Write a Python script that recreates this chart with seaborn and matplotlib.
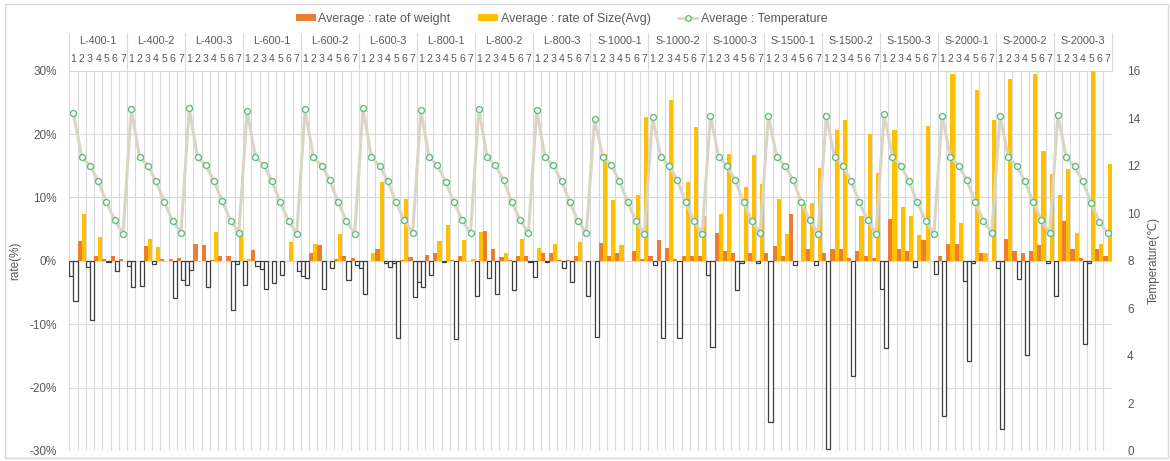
import numpy as np
import pandas as pd
import matplotlib.pyplot as plt
import matplotlib.transforms as mtransforms
from matplotlib.patches import Patch, Rectangle
from matplotlib.lines import Line2D
import seaborn as sns

groups = ['L-400-1', 'L-400-2', 'L-400-3', 'L-600-1', 'L-600-2', 'L-600-3',
          'L-800-1', 'L-800-2', 'L-800-3', 'S-1000-1', 'S-1000-2', 'S-1000-3',
          'S-1500-1', 'S-1500-2', 'S-1500-3', 'S-2000-1', 'S-2000-2', 'S-2000-3']
steps = ['1', '2', '3', '4', '5', '6', '7']

# rate of weight (%), 7 values per group
weight = [-2.4, 3.2, -1.0, 0.8, 0.3, 0.8, 0.3,
          -0.8, 0.0, 2.4, -0.5, 0.3, 0.3, 0.5,
          -3.8, 2.7, 2.5, 0.2, 0.8, 0.8, -0.5,
          -3.8, 1.7, -1.3, 0.0, 0.0, 0.0, 0.0,
          -2.4, 1.2, 2.5, 0.0, 0.3, 0.7, 0.4,
          -1.2, 0.0, 1.8, -0.3, -0.4, 0.2, 0.6,
          -3.4, 0.9, 1.2, -0.2, 0.2, 0.8, 0.0,
          -5.5, 4.7, 1.8, 0.6, 0.2, 0.8, 0.8,
          -2.5, 1.2, 1.2, 0.2, 0.2, 0.7, 0.0,
          0.0, 2.8, 0.8, 1.2, 0.0, 1.6, 0.3,
          0.8, 3.3, 2.0, 0.3, 0.8, 0.8, 0.8,
          -2.3, 4.4, 1.6, 1.2, -0.3, 1.2, -0.3,
          1.3, 2.4, 0.8, 7.4, 0.0, 1.8, -0.7,
          1.2, 1.9, 1.9, 0.4, 1.5, 0.7, 0.4,
          -4.5, 6.6, 1.9, 1.5, -1.0, 3.3, 0.0,
          0.8, 2.7, 2.6, -3.2, -0.3, 1.2, 0.0,
          -1.1, 3.5, 1.5, 1.2, 1.5, 2.5, -0.3,
          -5.6, 6.3, 1.9, 0.4, -0.3, 1.9, 0.7]

# rate of size (%), 7 values per group
size = [-6.3, 7.4, -9.3, 3.8, -0.2, -1.6, 0.0,
        -4.2, -4.0, 3.5, 2.2, 0.0, -5.9, -3.0,
        -1.5, 0.0, -4.1, 4.6, 0.0, -7.7, 4.7,
        0.3, -0.8, -4.5, -3.5, -2.3, 2.9, -1.6,
        -2.7, 2.7, -4.4, -1.2, 4.3, -3.0, -0.6,
        -5.2, 1.2, 12.4, -1.0, -12.1, 9.8, -5.7,
        -4.1, -2.3, 3.1, 5.6, -12.4, 3.3, 0.3,
        4.6, -2.7, -5.3, 1.3, -4.6, 3.4, -0.2,
        2.0, -0.2, 2.7, -1.2, -3.3, 3.0, -5.5,
        -12.0, 16.8, 9.6, 2.5, 0.0, 10.4, 22.7,
        -0.7, -12.1, 25.4, -12.2, 12.5, 21.1, 7.0,
        -13.6, 7.4, 16.9, -4.6, 11.6, 16.7, 12.1,
        -25.5, 9.8, 4.3, -0.7, 9.1, 9.1, 14.6,
        -29.7, 20.6, 22.2, -18.2, 7.1, 20.0, 13.8,
        -13.7, 20.7, 8.5, 7.1, 4.1, 21.3, -2.1,
        -24.4, 29.5, 5.9, -15.8, 27.0, 1.3, 22.2,
        -26.6, 28.7, -2.9, -14.9, 29.5, 17.4, 13.7,
        10.4, 14.5, 4.4, -13.1, 30.0, 2.6, 15.3]

# temperature (deg C), 7 values per group
temp = [14.23, 12.38, 12.00, 11.35, 10.46, 9.71, 9.14,
        14.38, 12.36, 11.99, 11.35, 10.46, 9.68, 9.19,
        14.42, 12.36, 12.02, 11.35, 10.50, 9.68, 9.19,
        14.31, 12.36, 12.03, 11.36, 10.46, 9.68, 9.14,
        14.38, 12.36, 12.00, 11.39, 10.46, 9.68, 9.14,
        14.42, 12.38, 12.00, 11.36, 10.46, 9.71, 9.17,
        14.33, 12.36, 12.02, 11.32, 10.46, 9.71, 9.17,
        14.38, 12.36, 12.02, 11.39, 10.46, 9.71, 9.17,
        14.35, 12.36, 12.02, 11.35, 10.46, 9.68, 9.17,
        13.98, 12.36, 12.02, 11.36, 10.46, 9.68, 9.14,
        14.04, 12.38, 12.00, 11.40, 10.46, 9.68, 9.14,
        14.10, 12.36, 12.00, 11.39, 10.46, 9.68, 9.17,
        14.10, 12.38, 12.00, 11.39, 10.46, 9.71, 9.14,
        14.10, 12.36, 12.00, 11.36, 10.46, 9.71, 9.14,
        14.17, 12.38, 12.00, 11.36, 10.46, 9.68, 9.14,
        14.10, 12.36, 12.00, 11.39, 10.46, 9.68, 9.17,
        14.10, 12.36, 12.00, 11.36, 10.46, 9.71, 9.17,
        14.15, 12.35, 11.98, 11.34, 10.45, 9.65, 9.16]

lbl_w = 'Average : rate of weight'
lbl_s = 'Average : rate of Size(Avg)'
lbl_t = 'Average : Temperature'
c_w = '#ED7D31'
c_s = '#FFC000'
c_line = '#DAD6C6'
c_mark = '#62BE7E'
c_grid = '#D9D9D9'
c_text = '#595959'

sns.set_style('white')
plt.rcParams['font.family'] = ['Liberation Sans', 'DejaVu Sans']

n = len(weight)
idx = np.arange(n)
df = pd.DataFrame({'idx': np.concatenate([idx, idx]),
                   'value': weight + size,
                   'series': [lbl_w] * n + [lbl_s] * n})

fig = plt.figure(figsize=(11.7, 4.61), dpi=100)
ax = fig.add_axes([0.0592, 0.0217, 0.8910, 0.8249])

sns.barplot(data=df, x='idx', y='value', hue='series', hue_order=[lbl_w, lbl_s],
            palette=[c_w, c_s], width=1.0, dodge=True, saturation=1,
            errorbar=None, legend=False, ax=ax)

# negative values drawn white with a dark border (Excel "invert if negative")
for p in ax.patches:
    if p.get_height() < 0:
        p.set_facecolor('white')
        p.set_edgecolor('#3F3F3F')
        p.set_linewidth(0.9)
    else:
        p.set_edgecolor('none')
    p.set_zorder(2)

ax.set_xlim(-0.5, n - 0.5)
ax.set_ylim(-30, 30)
ax.set_xticks([])
ax.set_xticks(np.arange(-0.5, n, 1.0), minor=True)
ax.set_yticks(range(-30, 31, 10))
ax.set_yticklabels([f'{v}%' for v in range(-30, 31, 10)])
ax.grid(True, which='minor', axis='x', color=c_grid, lw=0.8)
ax.grid(True, which='major', axis='y', color=c_grid, lw=0.8)
ax.set_axisbelow(True)
ax.tick_params(axis='both', which='both', length=0, labelsize=8.5,
               labelcolor=c_text, pad=9)
ax.set_xlabel('')
ax.set_ylabel('rate(%)', color=c_text, fontsize=8.5)
ax.yaxis.set_label_coords(-0.046, 0.5)
for s in ax.spines.values():
    s.set_visible(False)

ax2 = ax.twinx()
sns.lineplot(x=idx, y=temp, ax=ax2, color=c_line, lw=2.2, marker='o',
             markersize=4.3, markerfacecolor='white', markeredgecolor=c_mark,
             markeredgewidth=1.0, legend=False)
ax2.set_xlim(-0.5, n - 0.5)
ax2.set_ylim(0, 16)
ax2.set_yticks(range(0, 17, 2))
ax2.tick_params(axis='y', length=0, labelsize=8.5, labelcolor=c_text, pad=11)
ax2.set_ylabel('Temperature(℃)', color=c_text, fontsize=8.5)
ax2.yaxis.set_label_coords(1.035, 0.5)
for s in ax2.spines.values():
    s.set_visible(False)

# two-level category axis on top
tr = mtransforms.blended_transform_factory(ax.transData, fig.transFigure)
y_top = 0.8466
y_sep = 1 - 33 / 461
for g, name in enumerate(groups):
    x0 = g * 7 - 0.5
    ax.text(x0 + 3.5, 1 - 41 / 461, name, transform=tr, ha='center', va='center',
            fontsize=7.8, color=c_text)
    for k, st in enumerate(steps):
        ax.text(g * 7 + k, 1 - 59 / 461, st, transform=tr, ha='center',
                va='center', fontsize=7.6, color=c_text)
for g in range(len(groups) + 1):
    ax.add_line(Line2D([g * 7 - 0.5] * 2, [y_top, y_sep], transform=tr,
                       color=c_grid, lw=0.8, clip_on=False))

handles = [Patch(facecolor=c_w, edgecolor='none', label=lbl_w),
           Patch(facecolor=c_s, edgecolor='none', label=lbl_s),
           Line2D([], [], color=c_line, lw=2.0, marker='o', markersize=4,
                  markerfacecolor='white', markeredgecolor=c_mark, label=lbl_t)]
fig.legend(handles=handles, loc='center', bbox_to_anchor=(0.48, 1 - 19 / 461),
           ncol=3, frameon=False, fontsize=9, labelcolor=c_text,
           handlelength=1.6, handleheight=0.55, handletextpad=0.2,
           columnspacing=2.2)

fig.add_artist(Rectangle((0.004, 0.006), 0.994, 0.985, transform=fig.transFigure,
                         fill=False, edgecolor=c_grid, lw=1.0))

fig.savefig('out.png', dpi=100)
